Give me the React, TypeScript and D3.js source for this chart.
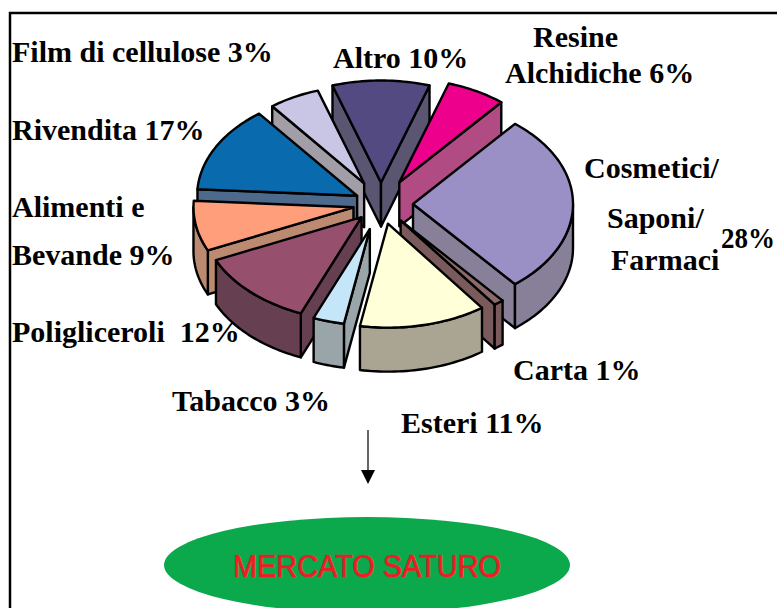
import React from "react";
import * as d3 from "d3";

const sliceNames = ["Altro", "Resine", "Cosmetici", "Carta", "Esteri", "Tabacco", "Poligliceroli", "Alimenti", "Rivendita", "Film"];
const sliceValues = [10, 6, 28, 1, 12.8, 3.4, 12, 7.8, 13.5, 5.5];
const topColors = ["#544a82", "#ec008c", "#9a90c6", "#8a6a6a", "#ffffd8", "#c5e6f8", "#96506e", "#ff9e7a", "#0a6aae", "#c8c6e4"];
const sideColors = ["#5a5570", "#b04b84", "#888099", "#7a5a5a", "#aaa592", "#99a5a8", "#664050", "#bb8a70", "#4d6a8c", "#a19ea8"];
const explodes = [33, 38, 32, 32, 31, 40, 28, 28, 27, 36];
const radii = [157, 160, 160, 160, 160, 148, 160, 160, 160, 150];

const labelLines: [string, number, number][] = [
  ["Film di cellulose 3%", 12, 62],
  ["Altro 10%", 333, 68],
  ["Resine", 533, 47],
  ["Alchidiche 6%", 505, 83],
  ["Rivendita 17%", 12, 140],
  ["Cosmetici/", 584, 178],
  ["Saponi/", 607, 228],
  ["28%", 721, 248],
  ["Farmaci", 611, 270],
  ["Alimenti e", 12, 217],
  ["Bevande 9%", 12, 265],
  ["Poligliceroli  12%", 12, 342],
  ["Carta 1%", 513, 380],
  ["Tabacco 3%", 172, 411],
  ["Esteri 11%", 401, 433],
];

const CX = 381, CY = 204, RATIO = 0.65, DEPTH = 44;

const pieGen = d3.pie<number>().sort(null).startAngle(-18 * Math.PI / 180).endAngle((360 - 18) * Math.PI / 180);
const arcs = pieGen(sliceValues);

function project(angle: number, radius: number, ox: number, oy: number, dz = 0): [number, number] {
  return [CX + ox + radius * Math.sin(angle), CY + oy - radius * Math.cos(angle) * RATIO + dz];
}

function arcPoints(a0: number, a1: number, R: number, ox: number, oy: number, dz: number) {
  const n = Math.max(2, Math.ceil(Math.abs(a1 - a0) * 40));
  return d3.range(n + 1).map((i) => project(a0 + ((a1 - a0) * i) / n, R, ox, oy, dz));
}

const line = d3.line();

export default function App() {
  const order = arcs.map((a, i) => ({ a, i, mid: (a.startAngle + a.endAngle) / 2 }));
  order.sort((p, q) => Math.cos(q.mid) - Math.cos(p.mid));

  return (
    <svg width={777} height={608} style={{ position: "absolute", left: 0, top: 0, background: "#fff" }}>
      <path d="M10,608V13H777" fill="none" stroke="#000" strokeWidth={2.5} />
      <g stroke="#000" strokeWidth={2.4} strokeLinejoin="round">
        {order.map(({ a, i, mid }) => {
          const R = radii[i];
          const ox = explodes[i] * Math.sin(mid);
          const oy = -explodes[i] * Math.cos(mid) * RATIO;
          const s = a.startAngle, e = a.endAngle;
          const apex = project(0, 0, ox, oy);
          const apexB = project(0, 0, ox, oy, DEPTH);
          const faces: string[] = [];
          if (Math.sin(s) < 0) {
            faces.push(line([apex, project(s, R, ox, oy), project(s, R, ox, oy, DEPTH), apexB, apex])!);
          }
          if (Math.sin(e) > 0) {
            faces.push(line([apex, project(e, R, ox, oy), project(e, R, ox, oy, DEPTH), apexB, apex])!);
          }
          const r0 = Math.max(s, Math.PI / 2), r1 = Math.min(e, (3 * Math.PI) / 2);
          if (r1 > r0) {
            const pts = [...arcPoints(r0, r1, R, ox, oy, 0), ...arcPoints(r1, r0, R, ox, oy, DEPTH)];
            faces.push(line(pts)! + "Z");
          }
          const top = line([apex, ...arcPoints(s, e, R, ox, oy, 0)])! + "Z";
          return (
            <g key={sliceNames[i]}>
              {faces.map((d, k) => (
                <path key={k} d={d} fill={sideColors[i]} />
              ))}
              <path d={top} fill={topColors[i]} />
            </g>
          );
        })}
      </g>
      <g fontFamily="'Liberation Serif', serif" fontWeight="bold" fontSize={30} fill="#000">
        {labelLines.map(([t, x, y]) => (
          <text key={t} x={x} y={y} xmlSpace="preserve" style={{ whiteSpace: "pre" }} {...(t === "28%" ? { textLength: 54, lengthAdjust: "spacingAndGlyphs" } : {})}>{t}</text>
        ))}
      </g>
      <line x1={368} y1={430} x2={368} y2={472} stroke="#000" strokeWidth={1.2} />
      <path d="M361,470H375L368,484Z" fill="#000" />
      <ellipse cx={367} cy={565} rx={203} ry={48} fill="#0ca84c" />
      <text x={367} y={577} textAnchor="middle" fontFamily="'Liberation Sans', sans-serif" fontSize={31} fill="#ee1c25" stroke="#ee1c25" strokeWidth={0.7} textLength={268} lengthAdjust="spacingAndGlyphs">MERCATO SATURO</text>
    </svg>
  );
}
